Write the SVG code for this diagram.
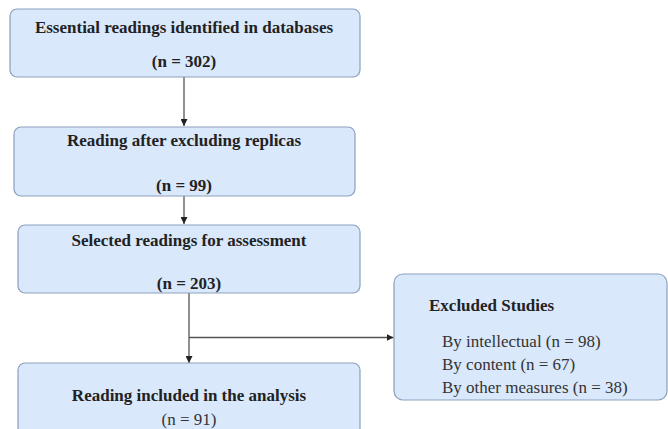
<svg xmlns="http://www.w3.org/2000/svg" width="668" height="429" viewBox="0 0 668 429">
<style>
.box{fill:#dae8fc;stroke:#8c9fbd;stroke-width:1.2}
.t{font-family:"Liberation Serif","Times New Roman",serif;font-weight:bold;font-size:17px;fill:#222}
.m{text-anchor:middle}
.r{font-family:"Liberation Serif","Times New Roman",serif;font-size:17px;fill:#333}
.c{stroke:#555;stroke-width:1.3;fill:none}
</style>
<defs>
<marker id="ah" viewBox="0 0 10 10" refX="10" refY="5" markerWidth="7" markerHeight="7" markerUnits="userSpaceOnUse" orient="auto">
<path d="M0,0 L10,5 L0,10 z" fill="#222"/>
</marker>
</defs>
<rect width="668" height="429" fill="#fff"/>
<g id="connectors">
<line class="c" x1="184" y1="77" x2="184" y2="126" marker-end="url(#ah)"/>
<line class="c" x1="184" y1="196" x2="184" y2="224" marker-end="url(#ah)"/>
<line class="c" x1="189" y1="293" x2="189" y2="363" marker-end="url(#ah)"/>
<line class="c" x1="189" y1="337.5" x2="393.5" y2="337.5" marker-end="url(#ah)"/>
</g>
<g id="n1">
<rect class="box" x="10" y="9" width="350" height="68" rx="7"/>
<text class="t m" x="184" y="33">Essential readings identified in databases</text>
<text class="t m" x="184" y="67">(n = 302)</text>
</g>
<g id="n2">
<rect class="box" x="14" y="127" width="341" height="69" rx="7"/>
<text class="t m" x="184" y="146">Reading after excluding replicas</text>
<text class="t m" x="184" y="191">(n = 99)</text>
</g>
<g id="n3">
<rect class="box" x="18" y="225" width="342" height="68" rx="7"/>
<text class="t m" x="189" y="246">Selected readings for assessment</text>
<text class="t m" x="189" y="289">(n = 203)</text>
</g>
<g id="n4">
<rect class="box" x="18" y="363" width="342" height="80" rx="7"/>
<text class="t m" x="189" y="401">Reading included in the analysis</text>
<text class="r m" x="189" y="425">(n = 91)</text>
</g>
<g id="n5">
<rect class="box" x="394" y="274" width="273" height="126" rx="9"/>
<text class="t" x="429" y="311">Excluded Studies</text>
<text class="r" x="442" y="347">By intellectual  (n = 98)</text>
<text class="r" x="442" y="370">By content (n = 67)</text>
<text class="r" x="442" y="393">By other measures (n = 38)</text>
</g>
</svg>
